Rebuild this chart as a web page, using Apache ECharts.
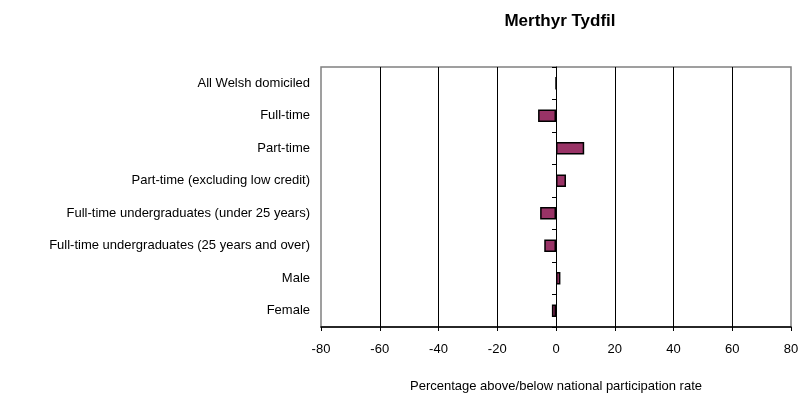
<!DOCTYPE html>
<html>
<head>
<meta charset="utf-8">
<script src="https://cdn.jsdelivr.net/npm/echarts@6/dist/echarts.min.js"></script>
<style>
  html, body { margin: 0; padding: 0; background: #fff; }
  #chart { width: 807px; height: 401px; }
</style>
</head>
<body>
<div id="chart"></div>
<script>
// data
const categories = [
  'All Welsh domiciled',
  'Full-time',
  'Part-time',
  'Part-time (excluding low credit)',
  'Full-time undergraduates (under 25 years)',
  'Full-time undergraduates (25 years and over)',
  'Male',
  'Female'
]
const values = [0, -6.1, 9.6, 3.4, -5.4, -4.0, 1.5, -1.4]
const xTicks = [-80, -60, -40, -20, 0, 20, 40, 60, 80]

const chart = echarts.init(document.getElementById('chart'))
const font = 'Liberation Sans, Arial, sans-serif'

chart.setOption({
  backgroundColor: '#fff',
  animation: false,
  title: {
    text: 'Merthyr Tydfil',
    left: 555,
    top: 8,
    textAlign: 'center',
    textStyle: { fontFamily: font, fontSize: 17, fontWeight: 'bold', color: '#000' }
  },
  grid: {
    left: 321, right: 16, top: 67, bottom: 74,
    show: true, borderColor: '#808080', borderWidth: 1.5
  },
  xAxis: {
    type: 'value',
    min: xTicks[0],
    max: xTicks[xTicks.length - 1],
    interval: 20,
    name: 'Percentage above/below national participation rate',
    nameLocation: 'middle',
    nameGap: 53,
    nameTextStyle: { fontFamily: font, fontSize: 13, color: '#000' },
    axisLine: { show: true, onZero: false, lineStyle: { color: '#000', width: 1.5 } },
    axisTick: { show: true, length: 4, lineStyle: { color: '#000' } },
    axisLabel: { fontFamily: font, fontSize: 13, color: '#000', margin: 16 },
    splitLine: {
      show: true, showMinLine: false, showMaxLine: false,
      lineStyle: { color: '#000', width: 1 }
    }
  },
  yAxis: [
    {
      type: 'category',
      data: categories,
      inverse: true,
      axisLine: { show: false, onZero: false },
      axisTick: { show: false },
      axisLabel: { fontFamily: font, fontSize: 13, color: '#000', margin: 11 },
      splitLine: { show: false }
    },
    {
      type: 'category',
      data: categories,
      inverse: true,
      position: 'left',
      axisLine: { show: true, onZero: true, lineStyle: { color: '#000', width: 1 } },
      axisTick: { show: true, length: 4, lineStyle: { color: '#000' } },
      axisLabel: { show: false },
      splitLine: { show: false }
    }
  ],
  series: [{
    type: 'bar',
    data: values,
    yAxisIndex: 0,
    barWidth: '38%',
    itemStyle: { color: '#993366', borderColor: '#000', borderWidth: 1.5 }
  }]
})
</script>
</body>
</html>
